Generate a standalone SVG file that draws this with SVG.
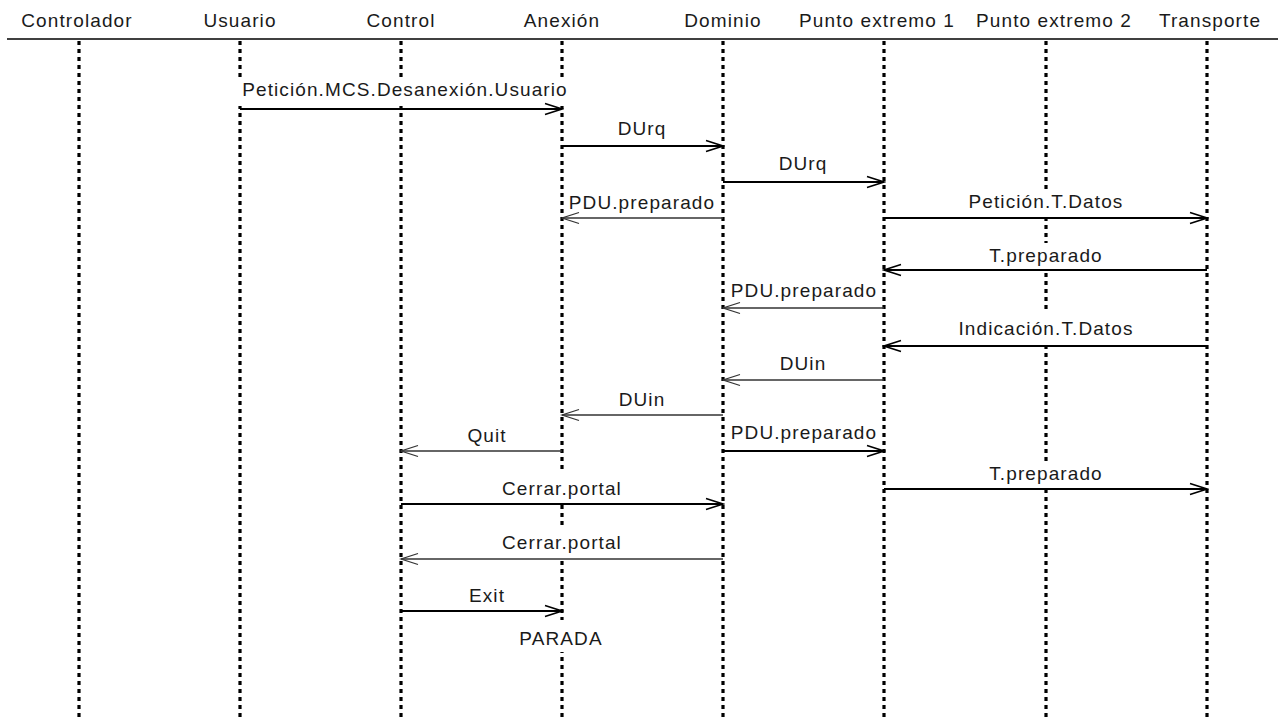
<svg xmlns="http://www.w3.org/2000/svg" width="1278" height="720" viewBox="0 0 1278 720">
<style>
text{font-family:"Liberation Sans",Arial,sans-serif;font-size:19px;fill:#1a1a1a;text-anchor:middle;letter-spacing:1.1px}
.life{stroke:#000;stroke-width:3.2;stroke-dasharray:4 4;fill:none}
.hdr{stroke:#000;stroke-width:1.5}
.fw{stroke:#000;stroke-width:2;fill:none;marker-end:url(#ahK)}
.bk{stroke:#333;stroke-width:1.3;fill:none;marker-end:url(#ahG)}
.bg{fill:#fff}
</style>
<defs>
<marker id="ahK" viewBox="-19 -8 21 16" markerWidth="21" markerHeight="16" refX="0" refY="0" orient="auto" markerUnits="userSpaceOnUse">
<path d="M-17,-5.5 L0,0 L-17,5.5" fill="none" stroke="#000" stroke-width="1.5"/>
</marker>
<marker id="ahG" viewBox="-19 -8 21 16" markerWidth="21" markerHeight="16" refX="0" refY="0" orient="auto" markerUnits="userSpaceOnUse">
<path d="M-17,-5.5 L0,0 L-17,5.5" fill="none" stroke="#333" stroke-width="1.3"/>
</marker>
</defs>
<rect width="1278" height="720" fill="#fff"/>
<line class="hdr" x1="7" y1="39" x2="1278" y2="39"/>
<g id="lifelines">
<g id="controlador"><text x="77" y="27">Controlador</text><line class="life" x1="79" y1="41" x2="79" y2="718"/></g>
<g id="usuario"><text x="240" y="27">Usuario</text><line class="life" x1="240" y1="41" x2="240" y2="718"/></g>
<g id="control"><text x="401" y="27">Control</text><line class="life" x1="401" y1="41" x2="401" y2="718"/></g>
<g id="anexion"><text x="562" y="27">Anexión</text><line class="life" x1="562" y1="41" x2="562" y2="718"/></g>
<g id="dominio"><text x="723" y="27">Dominio</text><line class="life" x1="723" y1="41" x2="723" y2="718"/></g>
<g id="pe1"><text x="877" y="27">Punto extremo 1</text><line class="life" x1="884" y1="41" x2="884" y2="718"/></g>
<g id="pe2"><text x="1054" y="27">Punto extremo 2</text><line class="life" x1="1046" y1="41" x2="1046" y2="718"/></g>
<g id="transporte"><text x="1210" y="27">Transporte</text><line class="life" x1="1207" y1="41" x2="1207" y2="718"/></g>
</g>
<g id="labels">
<rect class="bg" x="236" y="78" width="336" height="28"/><text x="405" y="96">Petición.MCS.Desanexión.Usuario</text>
<text x="642" y="135">DUrq</text>
<text x="803" y="170">DUrq</text>
<text x="642" y="209">PDU.preparado</text>
<rect class="bg" x="966" y="190" width="158" height="26"/><text x="1046" y="208">Petición.T.Datos</text>
<rect class="bg" x="986" y="243" width="120" height="26"/><text x="1046" y="262">T.preparado</text>
<text x="804" y="297">PDU.preparado</text>
<rect class="bg" x="960" y="312" width="172" height="30"/><text x="1046" y="335">Indicación.T.Datos</text>
<text x="803" y="370">DUin</text>
<text x="642" y="406">DUin</text>
<text x="487" y="442">Quit</text>
<text x="804" y="439">PDU.preparado</text>
<rect class="bg" x="986" y="462" width="120" height="26"/><text x="1046" y="480">T.preparado</text>
<rect class="bg" x="496" y="472" width="132" height="30"/><text x="562" y="495">Cerrar.portal</text>
<rect class="bg" x="496" y="528" width="132" height="29"/><text x="562" y="549">Cerrar.portal</text>
<text x="487" y="602">Exit</text>
<rect class="bg" x="514" y="620" width="96" height="32"/><text x="561" y="645">PARADA</text>
</g>
<g id="connectors">
<line class="fw" x1="240" y1="109" x2="562" y2="109"/>
<line class="fw" x1="562" y1="146" x2="723" y2="146"/>
<line class="fw" x1="723" y1="182" x2="884" y2="182"/>
<line class="bk" x1="723" y1="218" x2="562" y2="218"/>
<line class="fw" x1="884" y1="218" x2="1207" y2="218"/>
<line class="fw" x1="1207" y1="270" x2="884" y2="270"/>
<line class="bk" x1="884" y1="308" x2="723" y2="308"/>
<line class="fw" x1="1207" y1="346" x2="884" y2="346"/>
<line class="bk" x1="884" y1="380" x2="723" y2="380"/>
<line class="bk" x1="723" y1="415" x2="562" y2="415"/>
<line class="bk" x1="562" y1="451" x2="401" y2="451"/>
<line class="fw" x1="723" y1="451" x2="884" y2="451"/>
<line class="fw" x1="884" y1="489" x2="1207" y2="489"/>
<line class="fw" x1="401" y1="504" x2="723" y2="504"/>
<line class="bk" x1="723" y1="559" x2="401" y2="559"/>
<line class="fw" x1="401" y1="611" x2="562" y2="611"/>
</g>
</svg>
